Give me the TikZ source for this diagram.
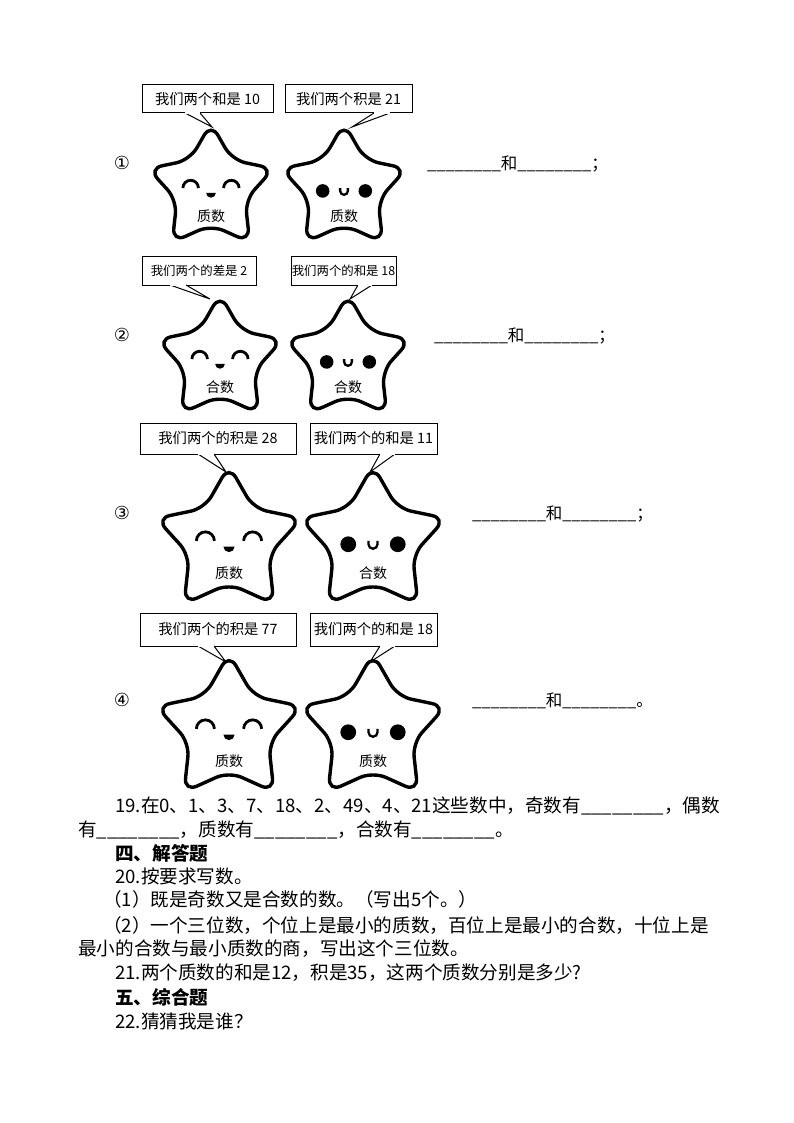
\documentclass[tikz,border=0pt]{standalone}
\usepackage{fontspec}
\setmainfont{Noto Sans CJK SC}
\newfontfamily\djfont{DejaVu Sans}
\begin{document}
\begin{tikzpicture}[x=1pt,y=-1pt,
  bub/.style={draw,line width=1pt,fill=white},
  btxt/.style={font=\fontsize{14.3}{16}\selectfont,inner sep=0},
  stxt/.style={font=\fontsize{12.6}{14}\selectfont,inner sep=0},
  body/.style={font=\fontsize{18.6}{20}\selectfont,anchor=west,inner sep=0},
  blank/.style={font=\fontsize{16.5}{18}\selectfont,anchor=west,inner sep=0},
  hd/.style={body,font=\fontsize{18.6}{20}\selectfont\bfseries}]
\useasboundingbox (0,0) rectangle (794,1123);
\newcommand\mystar[5]{%
 \begin{scope}[shift={(#1,#2)},scale=#3/64]
 \draw[line width=3.4pt,rounded corners=14pt,fill=white]
   (270:68) -- (306:37) -- (342:68) -- (18:37) -- (54:68) -- (90:37) -- (126:68) -- (162:37) -- (198:68) -- (234:37) -- cycle;
 \ifnum#4=1
  \draw[line width=2.8pt] (-29,-1) arc[start angle=180,end angle=360,radius=8];
  \draw[line width=2.8pt] (13,-1) arc[start angle=180,end angle=360,radius=8];
  \fill (-5,4) -- (5,4) arc[start angle=0,end angle=180,radius=5] -- cycle;
 \else
  \fill (-22,2) circle (7); \fill (22,2) circle (7);
  \draw[line width=2.3pt] (-4,-1) -- (-4,2) arc[start angle=180,end angle=0,radius=4] -- (4,-1);
 \fi
 \node[font=\fontsize{14}{16}\selectfont] at (0,28) {#5};
 \end{scope}}
\newcommand\bubble[9]{%
 \draw[bub] (#1,#2) rectangle (#3,#4);
 \draw[line width=1pt,fill=white] (#5,#4) -- (#7,#8) -- (#6,#4);
 \draw[white,line width=1.2pt] (#5,#4) -- (#6,#4);
 \node at ({(#1+#3)/2},{(#2+#4)/2}) {#9};}
% row 1
\bubble{142}{85}{273}{113}{185}{200}{212}{127}{\tikzset{}\fontsize{14.3}{16}\selectfont 我们两个和是 10}
\bubble{285}{85}{412}{113}{374}{390}{352}{127}{\fontsize{14.3}{16}\selectfont 我们两个积是 21}
\mystar{211}{189}{62}{1}{质数}
\mystar{344}{189}{62}{2}{质数}
% row 2
\bubble{142}{256}{256}{285}{170}{186}{210}{299}{\fontsize{12.4}{14}\selectfont 我们两个的差是 2}
\bubble{291}{256}{396}{285}{358}{372}{350}{299}{\fontsize{12.4}{14}\selectfont 我们两个的和是 18}
\mystar{220}{360}{62}{1}{合数}
\mystar{348}{360}{62}{2}{合数}
% row 3
\bubble{140}{423}{296}{454}{198}{214}{226}{472}{\fontsize{14.3}{16}\selectfont 我们两个的积是 28}
\bubble{310}{423}{437}{454}{380}{395}{370}{472}{\fontsize{14.3}{16}\selectfont 我们两个的和是 11}
\mystar{229}{542}{72}{1}{质数}
\mystar{373}{542}{72}{2}{合数}
% row 4
\bubble{140}{613}{296}{646}{198}{214}{226}{662}{\fontsize{14.3}{16}\selectfont 我们两个的积是 77}
\bubble{310}{613}{437}{646}{380}{395}{370}{662}{\fontsize{14.3}{16}\selectfont 我们两个的和是 18}
\mystar{229}{730}{72}{1}{质数}
\mystar{373}{730}{72}{2}{质数}
% circled numbers
\node[font=\djfont\fontsize{18}{20}\selectfont] (c1) at (122,163) {①};
\node[font=\djfont\fontsize{18}{20}\selectfont] (c2) at (122,335) {②};
\node[font=\djfont\fontsize{18}{20}\selectfont] (c3) at (122,513) {③};
\node[font=\djfont\fontsize{18}{20}\selectfont] (c4) at (122,700) {④};
\node[blank] (b1) at (427,164) {\_\_\_\_\_\_\_\_和\_\_\_\_\_\_\_\_；};
\node[blank] (b2) at (434,336) {\_\_\_\_\_\_\_\_和\_\_\_\_\_\_\_\_；};
\node[blank] (b3) at (472,514) {\_\_\_\_\_\_\_\_和\_\_\_\_\_\_\_\_；};
\node[blank] (b4) at (472,701) {\_\_\_\_\_\_\_\_和\_\_\_\_\_\_\_\_。};
% text
\node[body] (t1) at (115,806) {19.在0、1、3、7、18、2、49、4、21这些数中，奇数有\_\_\_\_\_\_\_\_，偶数};
\node[body] (t2) at (78,830) {有\_\_\_\_\_\_\_\_，质数有\_\_\_\_\_\_\_\_，合数有\_\_\_\_\_\_\_\_。};
\node[hd] (t3) at (115,853) {四、解答题};
\node[body] (t4) at (115,876) {20.按要求写数。};
\node[body] (t5) at (103,899) {（1）既是奇数又是合数的数。（写出5个。）};
\node[body] (t6) at (103,926) {（2）一个三位数，个位上是最小的质数，百位上是最小的合数，十位上是};
\node[body] (t7) at (78,949) {最小的合数与最小质数的商，写出这个三位数。};
\node[body] (t8) at (115,973) {21.两个质数的和是12，积是35，这两个质数分别是多少?};
\node[hd] (t9) at (115,997) {五、综合题};
\node[body] (t10) at (115,1021) {22.猜猜我是谁？};
\end{tikzpicture}
\end{document}
